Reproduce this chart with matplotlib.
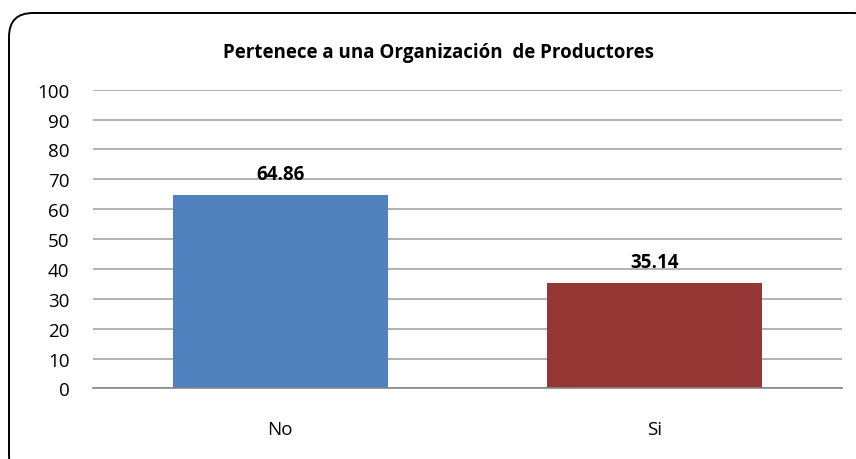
import matplotlib
matplotlib.use("Agg")
import matplotlib.pyplot as plt
from matplotlib.patches import FancyBboxPatch

plt.rcParams["font.family"] = ["Open Sans", "DejaVu Sans"]

CATEGORIES = ["No", "Si"]
VALUES = [64.86, 35.14]
COLORS = ["#4F81BD", "#953735"]
TITLE = "Pertenece a una Organización  de Productores"

fig = plt.figure(figsize=(8.56, 4.6), dpi=100)
ax = fig.add_axes([0.1086, 0.1533, 0.8747, 0.6495])

# rounded outer chart frame (runs off the right and bottom edges)
frame = FancyBboxPatch((0.09, -0.2), 8.7, 4.66, boxstyle="round,pad=0,rounding_size=0.24",
                       transform=fig.dpi_scale_trans, fill=False, ec="black", lw=1.4,
                       clip_on=False)
fig.patches.append(frame)

x = range(len(CATEGORIES))
bars = ax.bar(x, VALUES, width=0.574, color=COLORS, zorder=3)
for b, v in zip(bars, VALUES):
    ax.annotate(f"{v:.2f}", (b.get_x() + b.get_width() / 2, v), xytext=(0, 8),
                textcoords="offset points", ha="center", va="bottom",
                fontsize=13.5, fontweight="bold")

ax.set_xlim(-0.5, 1.5)
ax.set_ylim(0, 100)
ax.set_yticks(range(0, 101, 10))
ax.set_xticks(list(x))
ax.set_xticklabels(CATEGORIES)
ax.tick_params(axis="both", length=0, labelsize=13.5)
ax.tick_params(axis="y", pad=17)
ax.tick_params(axis="x", pad=23)
ax.grid(axis="y", color="#a6a6a6", lw=1.2, zorder=0)
for s in ("top", "right", "left"):
    ax.spines[s].set_visible(False)
ax.spines["bottom"].set_color("#868686")
ax.spines["bottom"].set_linewidth(1.2)
ax.spines["bottom"].set_zorder(4)

fig.text(0.512, 0.885, TITLE, ha="center", va="center", fontsize=13.5, fontweight="bold")

fig.savefig("out.png", dpi=100)
